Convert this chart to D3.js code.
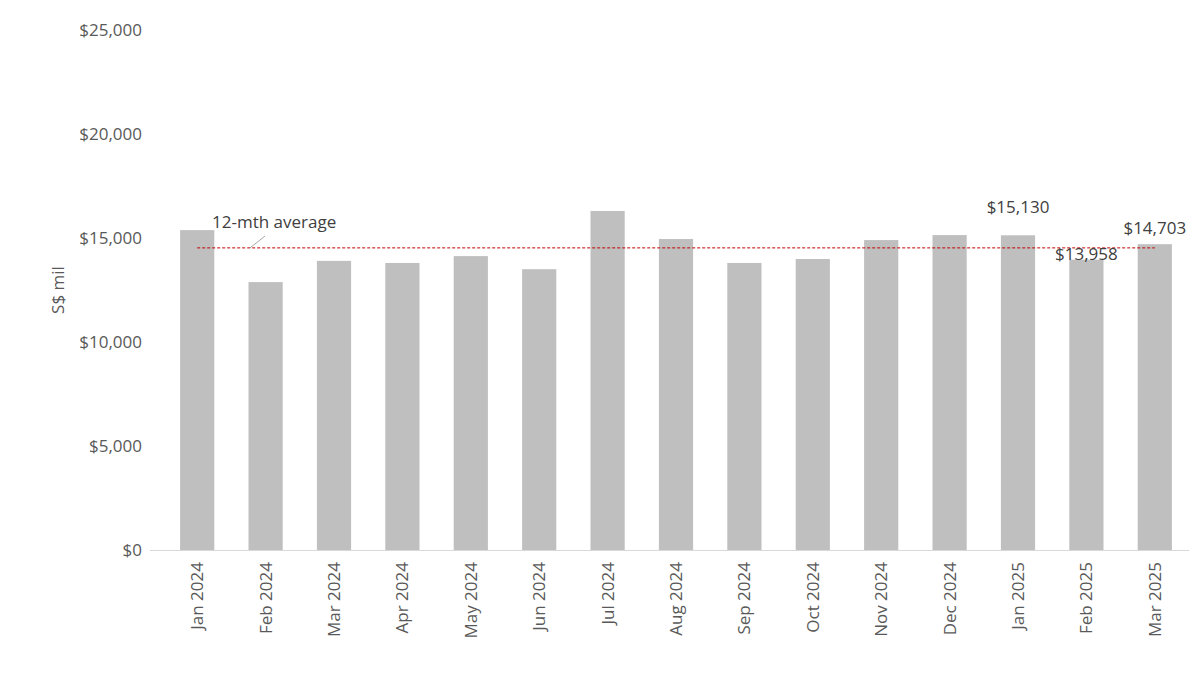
<!DOCTYPE html>
<html><head><meta charset="utf-8">
<script src="https://cdn.jsdelivr.net/npm/d3@7"></script>
<style>body{margin:0;background:#fff}text{font-family:"Open Sans","Noto Sans",sans-serif}</style>
</head><body><svg id="c" width="1204" height="678"></svg>
<script>
const categories=["Jan 2024","Feb 2024","Mar 2024","Apr 2024","May 2024","Jun 2024","Jul 2024","Aug 2024","Sep 2024","Oct 2024","Nov 2024","Dec 2024","Jan 2025","Feb 2025","Mar 2025"];
const values=[15380,12880,13900,13800,14130,13500,16300,14950,13800,13990,14900,15140,15130,13958,14703];
const labelled=["Jan 2025","Feb 2025","Mar 2025"];
const yTicks=[0,5000,10000,15000,20000,25000];
const avgStart=3;
const avg=d3.mean(values.slice(avgStart));
const svg=d3.select("#c");
const x=d3.scaleBand().domain(categories).range([163,1189]).paddingInner(0.5).paddingOuter(0.25);
const y=d3.scaleLinear().domain([0,25000]).range([550,30]);
yTicks.forEach(t=>svg.append("text").attr("x",142).attr("y",y(t)+6).attr("text-anchor","end").attr("font-size",17).attr("fill","#595959").text("$"+d3.format(",")(t)));
svg.selectAll("rect.b").data(values).join("rect").attr("x",(d,i)=>x(categories[i])).attr("width",x.bandwidth()).attr("y",d=>y(d)).attr("height",d=>y(0)-y(d)).attr("fill","#bfbfbf");
svg.append("line").attr("x1",150).attr("x2",1189).attr("y1",y(0)+0.5).attr("y2",y(0)+0.5).attr("stroke","#d9d9d9");
categories.forEach(c=>{const cx=x(c)+x.bandwidth()/2;svg.append("text").attr("transform",`translate(${cx+6},562) rotate(-90)`).attr("text-anchor","end").attr("font-size",17).attr("fill","#595959").text(c);});
const c0=x(categories[0])+x.bandwidth()/2,c1=x(categories[categories.length-1])+x.bandwidth()/2;
svg.append("line").attr("x1",c0).attr("x2",c1).attr("y1",y(avg)).attr("y2",y(avg)).attr("stroke","#c00000").attr("stroke-dasharray","3,2").attr("stroke-width",1);
svg.append("line").attr("x1",265).attr("x2",250).attr("y1",236).attr("y2",y(avg)).attr("stroke","#a6a6a6");
svg.append("text").attr("x",212).attr("y",228).attr("font-size",17).attr("fill","#404040").text("12-mth average");
const off={"Jan 2025":-22,"Feb 2025":0,"Mar 2025":-10};
labelled.forEach(c=>{const i=categories.indexOf(c);svg.append("text").attr("x",x(c)+x.bandwidth()/2).attr("y",y(values[i])+off[c]).attr("text-anchor","middle").attr("font-size",17).attr("fill","#404040").text("$"+d3.format(",")(values[i]));});
svg.append("text").attr("transform","translate(64,290) rotate(-90)").attr("text-anchor","middle").attr("font-size",17).attr("fill","#595959").text("S$ mil");
</script></body></html>
